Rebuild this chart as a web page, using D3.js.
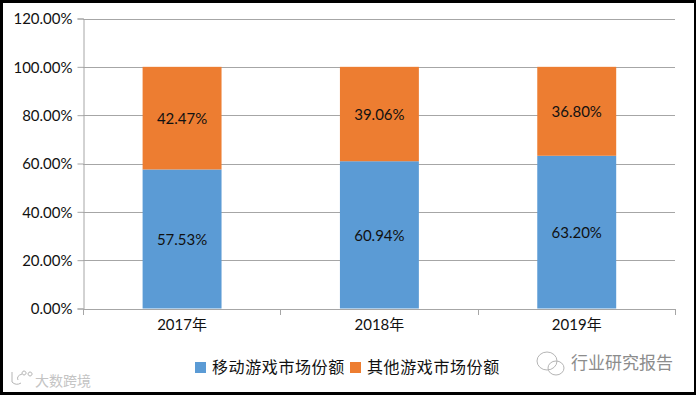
<!DOCTYPE html>
<html>
  <head>
    <meta charset="utf-8">
    <title>移动游戏市场份额</title>
    <script src="https://d3js.org/d3.v7.min.js"></script>
    <style>
      body { margin: 0; background: #000; }
      text { font-family: Lato, "Noto Sans CJK SC", sans-serif; fill: #111; }
    </style>
  </head>
  <body>
    <script>
      const years = ["2017年", "2018年", "2019年"];
      const mobileShare = [57.53, 60.94, 63.20];
      const otherShare = [42.47, 39.06, 36.80];
      const yTicks = [0, 20, 40, 60, 80, 100, 120];
      const seriesNames = ["移动游戏市场份额", "其他游戏市场份额"];
      const seriesColors = ["#5b9bd5", "#ed7d31"];

      const width = 696, height = 395;
      const svg = d3.select("body").append("svg")
        .attr("width", width).attr("height", height)
        .style("display", "block");

      // white page inside the thick black frame
      svg.append("rect").attr("x", 3).attr("y", 3)
        .attr("width", 691).attr("height", 389).attr("fill", "white");

      const x = d3.scaleBand().domain(years).range([83.4, 675.4])
        .paddingInner(0.6).paddingOuter(0.3);
      const y = d3.scaleLinear().domain([0, 120]).range([308.5, 18.5]);

      const fmt = d => d.toFixed(2) + "%";

      // gridlines
      svg.append("g").selectAll("line").data(yTicks.filter(d => d > 0)).enter().append("line")
        .attr("x1", 83).attr("x2", 675)
        .attr("y1", d => Math.round(y(d)) + 0.5).attr("y2", d => Math.round(y(d)) + 0.5)
        .attr("stroke", "#a6a6a6");

      // stacked bars
      const rows = years.map((yr, i) => ({ year: yr, mobile: mobileShare[i], other: otherShare[i] }));
      const stack = d3.stack().keys(["mobile", "other"])(rows);

      const layers = svg.selectAll("g.layer").data(stack).enter().append("g")
        .attr("class", "layer").attr("fill", (d, i) => seriesColors[i]);

      layers.selectAll("rect").data(d => d).enter().append("rect")
        .attr("x", d => x(d.data.year))
        .attr("y", d => y(d[1]))
        .attr("width", x.bandwidth())
        .attr("height", d => y(d[0]) - y(d[1]));

      layers.selectAll("text").data(d => d.map(v => ({ v: v, val: v[1] - v[0] }))).enter().append("text")
        .attr("x", d => x(d.v.data.year) + x.bandwidth() / 2)
        .attr("y", d => y((d.v[0] + d.v[1]) / 2) + 6)
        .attr("text-anchor", "middle")
        .style("font-size", "15px")
        .text(d => fmt(d.val));

      // axes
      const yAxis = d3.axisLeft(y).tickValues(yTicks).tickSize(6).tickPadding(5)
        .tickFormat(fmt);
      const yG = svg.append("g").attr("transform", "translate(83.5,0)").call(yAxis);
      yG.selectAll("text").style("font-size", "15px").attr("dy", "0.35em");

      const xAxis = d3.axisBottom(x).tickSize(0).tickPadding(10);
      const xG = svg.append("g").attr("transform", "translate(0,309)").call(xAxis);
      xG.selectAll("text").style("font-size", "15px");

      // boundary ticks between the categories
      xG.selectAll("line.cat").data(d3.range(4)).enter().append("line")
        .attr("class", "cat")
        .attr("x1", i => Math.round(83 + i * x.step()) + 0.5).attr("x2", i => Math.round(83 + i * x.step()) + 0.5)
        .attr("y1", 0).attr("y2", 6);

      svg.selectAll(".domain, .tick line, line.cat").attr("stroke", "#a6a6a6");

      // legend
      const legendX = [195, 350];
      const legend = svg.append("g").selectAll("g").data(seriesNames).enter().append("g")
        .attr("transform", (d, i) => `translate(${legendX[i]},362)`);
      legend.append("rect").attr("width", 11).attr("height", 11)
        .attr("fill", (d, i) => seriesColors[i]);
      legend.append("text").attr("x", 17).attr("y", 11)
        .style("font-size", "16px")
        .style("letter-spacing", "0.6px")
        .text(d => d);

      // watermarks
      svg.append("text").attr("x", 35).attr("y", 386)
        .style("font-size", "14px").style("fill", "#c4c4c4").text("大数跨境");
      svg.append("text").attr("x", 571).attr("y", 369)
        .style("font-size", "17px").style("fill", "#8c8c8c").text("行业研究报告");
      const wm = svg.append("g").attr("fill", "none").attr("stroke", "#b5b5b5");
      wm.append("ellipse").attr("cx", 547).attr("cy", 361).attr("rx", 10).attr("ry", 9);
      wm.append("ellipse").attr("cx", 556).attr("cy", 368).attr("rx", 8).attr("ry", 7);
      wm.append("path").attr("d", "M12 372 v10 q4 4 9 1 M22 374 q-6 2 -4 6 M24 371 a2 2 0 1 0 .1 0 M30 372 a2 2 0 1 0 .1 0");
    </script>
  </body>
</html>
